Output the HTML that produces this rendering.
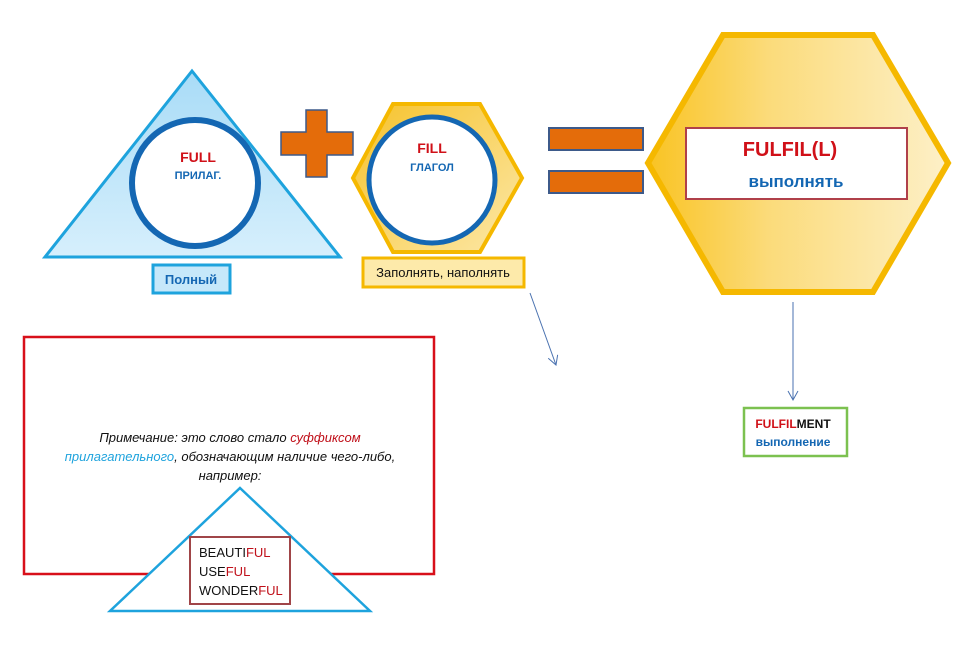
<!DOCTYPE html>
<html><head><meta charset="utf-8"><style>
body{margin:0;background:#fff;}
svg text{font-family:"Liberation Sans",sans-serif;}
</style></head><body>
<svg width="979" height="651" viewBox="0 0 979 651" xmlns="http://www.w3.org/2000/svg">
<defs>
<linearGradient id="tg" x1="0" y1="0" x2="0" y2="1"><stop offset="0" stop-color="#a9dcf7"/><stop offset="1" stop-color="#d6effc"/></linearGradient>
<linearGradient id="hg" x1="0" y1="0" x2="1" y2="0"><stop offset="0" stop-color="#f9c322"/><stop offset="0.4" stop-color="#fbdb7a"/><stop offset="1" stop-color="#fdf0c8"/></linearGradient>
<linearGradient id="sg" x1="0" y1="0" x2="1" y2="1"><stop offset="0" stop-color="#f6c22b"/><stop offset="1" stop-color="#fce8a8"/></linearGradient>
<marker id="ar" markerWidth="12" markerHeight="12" refX="10" refY="6" orient="auto" markerUnits="userSpaceOnUse"><path d="M1,1 L10,6 L1,11" fill="none" stroke="#4a72b0" stroke-width="1"/></marker>
</defs>
<!-- triangle -->
<polygon points="192,71 340,257 45,257" fill="url(#tg)" stroke="#1ea3dd" stroke-width="3"/>
<circle cx="195" cy="183" r="63" fill="#fff" stroke="#1467b3" stroke-width="6"/>
<text x="198" y="162" text-anchor="middle" font-weight="bold" font-size="14" fill="#d01018">FULL</text>
<text x="198" y="179" text-anchor="middle" font-weight="bold" font-size="11" fill="#1467b3">ПРИЛАГ.</text>
<rect x="153" y="265" width="77" height="28" fill="#c6e8fa" stroke="#1ea3dd" stroke-width="3"/>
<text x="191" y="284" text-anchor="middle" font-weight="bold" font-size="13" fill="#1467b3">Полный</text>
<!-- plus -->
<path d="M306,110 H327 V132 H353 V155 H327 V177 H306 V155 H281 V132 H306 Z" fill="#e46c0a" stroke="#3d5a8a" stroke-width="1.5"/>
<!-- small hexagon -->
<polygon points="353,178 393,104 480,104 522,178 480,252 393,252" fill="url(#sg)" stroke="#f5b800" stroke-width="4"/>
<circle cx="432" cy="180" r="63" fill="#fff" stroke="#1467b3" stroke-width="5"/>
<text x="432" y="153" text-anchor="middle" font-weight="bold" font-size="14" fill="#d01018">FILL</text>
<text x="432" y="171" text-anchor="middle" font-weight="bold" font-size="11" fill="#1467b3">ГЛАГОЛ</text>
<rect x="363" y="258" width="161" height="29" fill="#fdeaaa" stroke="#f5b800" stroke-width="3"/>
<text x="443" y="277" text-anchor="middle" font-size="13" fill="#111">Заполнять, наполнять</text>
<line x1="530" y1="293" x2="556" y2="365" stroke="#4a72b0" stroke-width="1" marker-end="url(#ar)"/>
<!-- equals -->
<rect x="549" y="128" width="94" height="22" fill="#e46c0a" stroke="#3d5a8a" stroke-width="2"/>
<rect x="549" y="171" width="94" height="22" fill="#e46c0a" stroke="#3d5a8a" stroke-width="2"/>
<!-- big hexagon -->
<polygon points="648,163 723,35 873,35 948,163 873,292 723,292" fill="url(#hg)" stroke="#f5b800" stroke-width="6"/>
<rect x="686" y="128" width="221" height="71" fill="#fff" stroke="#b0404a" stroke-width="2"/>
<text x="790" y="156" text-anchor="middle" font-weight="bold" font-size="20" fill="#d01018">FULFIL(L)</text>
<text x="796" y="187" text-anchor="middle" font-weight="bold" font-size="17" fill="#1467b3">выполнять</text>
<line x1="793" y1="302" x2="793" y2="400" stroke="#4a72b0" stroke-width="1" marker-end="url(#ar)"/>
<rect x="744" y="408" width="103" height="48" fill="#fff" stroke="#7cc150" stroke-width="2.5"/>
<text x="793" y="428" text-anchor="middle" font-weight="bold" font-size="12"><tspan fill="#d01018">FULFIL</tspan><tspan fill="#111">MENT</tspan></text>
<text x="793" y="446" text-anchor="middle" font-weight="bold" font-size="12" fill="#1467b3">выполнение</text>
<!-- note -->
<rect x="24" y="337" width="410" height="237" fill="#fff" stroke="#d8101a" stroke-width="2.5"/>
<g font-style="italic" font-size="13" text-anchor="middle">
<text x="230" y="442" fill="#111">Примечание: это слово стало <tspan fill="#c0101a">суффиксом</tspan></text>
<text x="230" y="461" fill="#111"><tspan fill="#1ea3dd">прилагательного</tspan>, обозначающим наличие чего-либо,</text>
<text x="230" y="480" fill="#111">например:</text>
</g>
<polygon points="240,488 370,611 110,611" fill="#fff" stroke="#1ea3dd" stroke-width="2.5"/>
<rect x="190" y="537" width="100" height="67" fill="#fff" stroke="#a04548" stroke-width="2"/>
<g font-size="13" fill="#111">
<text x="199" y="557">BEAUTI<tspan fill="#c0101a">FUL</tspan></text>
<text x="199" y="576">USE<tspan fill="#c0101a">FUL</tspan></text>
<text x="199" y="595">WONDER<tspan fill="#c0101a">FUL</tspan></text>
</g>
</svg>
</body></html>
